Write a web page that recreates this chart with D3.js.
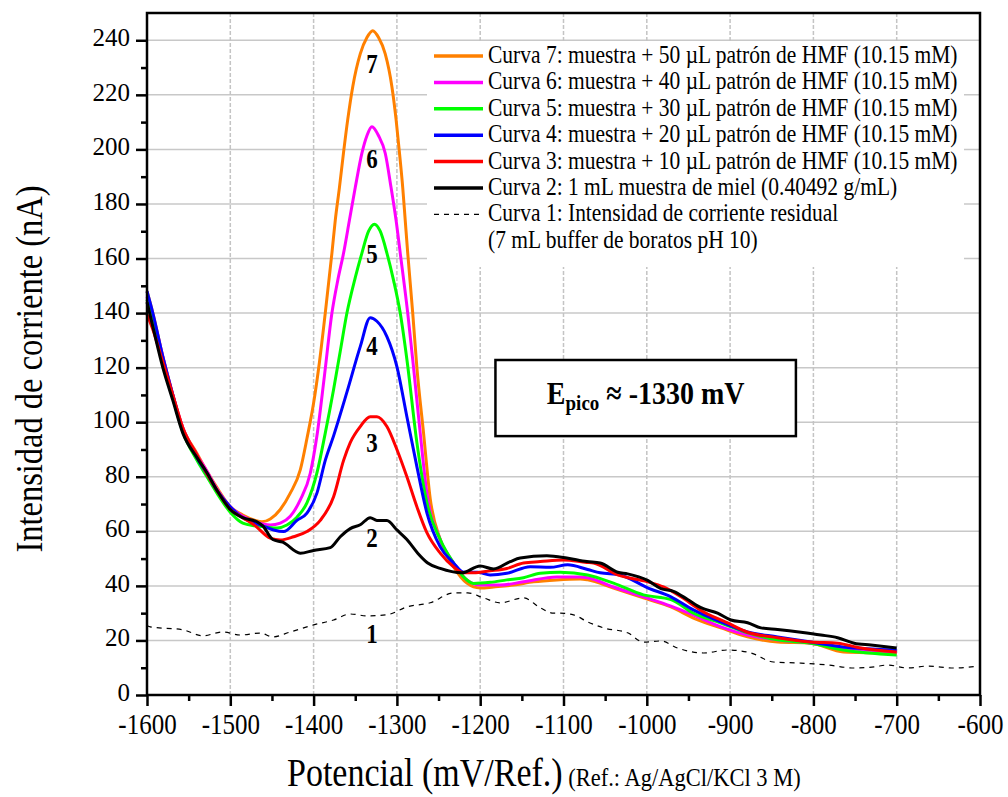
<!DOCTYPE html>
<html>
<head>
<meta charset="utf-8">
<script src="https://cdn.jsdelivr.net/npm/d3@7.9.0/dist/d3.min.js"></script>
<style>
  html, body { margin: 0; padding: 0; background: #fff; }
  svg { display: block; }
  svg text { font-family: "Liberation Serif", "Times New Roman", serif; }
</style>
</head>
<body>
<svg id="chart" width="1008" height="797"></svg>
<script>
// ticks
const xTicks = [-1600, -1500, -1400, -1300, -1200, -1100, -1000, -900, -800, -700, -600];
const yTicks = [0, 20, 40, 60, 80, 100, 120, 140, 160, 180, 200, 220, 240];

// curve 1: residual current (dashed)
const curva1 = [
  [-1600, 25.5], [-1596, 25], [-1557, 23.9], [-1533, 21.7], [-1509, 23.1], [-1488, 22],
  [-1464, 22.7], [-1449, 21.3], [-1428, 23.1], [-1400, 25.7], [-1376, 27.5], [-1356, 29.7],
  [-1336, 29], [-1312, 29.4], [-1288, 32.3], [-1260, 33.8], [-1232, 37.4], [-1215, 37.4],
  [-1196, 35.6], [-1176, 33.8], [-1148, 35.6], [-1128, 32], [-1112, 30], [-1104, 30],
  [-1088, 29.4], [-1071, 26.8], [-1052, 24.6], [-1023, 22.8], [-1004, 19.4], [-983, 19.8],
  [-963, 17.2], [-932, 15.4], [-903, 16.5], [-875, 15.4], [-848, 12.1], [-815, 11.7],
  [-783, 11], [-751, 9.9], [-727, 10.3], [-711, 11], [-687, 9.9], [-663, 10.6],
  [-631, 9.9], [-602, 10.6]
];

// curve 2: 1 mL honey sample
const curva2 = [
  [-1600, 144], [-1593, 135], [-1581, 120], [-1569, 108], [-1557, 96], [-1540, 87],
  [-1528, 81.5], [-1516, 75], [-1500, 68], [-1485, 65], [-1468, 63.5], [-1461, 62],
  [-1449, 57], [-1437, 56], [-1416, 52], [-1400, 53], [-1380, 54], [-1368, 58],
  [-1356, 61], [-1344, 62.4], [-1332, 65], [-1324, 64], [-1312, 64], [-1300, 60.5],
  [-1288, 57], [-1275, 52], [-1263, 48.4], [-1248, 46.4], [-1222, 44.8], [-1200, 47.3],
  [-1184, 46.2], [-1164, 48.9], [-1152, 50.2], [-1120, 51], [-1096, 50.2], [-1072, 48.9],
  [-1056, 48.4], [-1035, 45], [-1023, 44.4], [-999, 42], [-983, 39], [-968, 38],
  [-951, 35], [-935, 32], [-915, 30], [-899, 27.5], [-879, 26.5], [-863, 24.6],
  [-843, 24], [-815, 23], [-791, 22], [-771, 21], [-751, 19], [-731, 18.3], [-700, 17.2]
];

// curve 3: + 10 uL HMF
const curva3 = [
  [-1600, 139.5], [-1593, 134], [-1581, 122], [-1569, 110], [-1557, 98], [-1540, 88],
  [-1528, 81], [-1516, 75], [-1500, 68], [-1485, 65], [-1470, 62], [-1452, 57.5],
  [-1440, 56.8], [-1424, 58], [-1408, 59.9], [-1392, 64], [-1376, 72.7], [-1364, 86],
  [-1356, 92.5], [-1344, 98.4], [-1332, 102], [-1324, 102], [-1312, 98.4], [-1300, 90],
  [-1288, 80], [-1276, 69], [-1264, 59.5], [-1248, 52], [-1232, 47], [-1220, 44.8],
  [-1208, 44.8], [-1188, 45.5], [-1168, 46.4], [-1148, 48.4], [-1128, 48.9], [-1100, 49.5],
  [-1072, 48.6], [-1064, 48.4], [-1035, 44], [-999, 41.5], [-980, 39.6], [-959, 36],
  [-935, 31], [-903, 26.4], [-879, 23], [-843, 21], [-803, 19.4], [-771, 19],
  [-743, 17.2], [-700, 15.8]
];

// curve 4: + 20 uL HMF
const curva4 = [
  [-1600, 148], [-1593, 140], [-1581, 124], [-1569, 110], [-1557, 97], [-1540, 87],
  [-1528, 81], [-1516, 75], [-1500, 69], [-1485, 65], [-1470, 63], [-1461, 62],
  [-1448, 60.5], [-1436, 59.9], [-1420, 64], [-1408, 66.7], [-1396, 74], [-1386, 86],
  [-1376, 95], [-1360, 111], [-1344, 127.7], [-1332, 138.3], [-1324, 137], [-1312, 131.4],
  [-1300, 120.4], [-1288, 102], [-1276, 83.7], [-1264, 66.8], [-1248, 54.3], [-1232, 48.4],
  [-1220, 45], [-1203, 45], [-1188, 44], [-1168, 44.6], [-1140, 47], [-1116, 46.8],
  [-1095, 47.7], [-1071, 46], [-1056, 44.8], [-1032, 44], [-999, 39.3], [-971, 36],
  [-944, 31.2], [-911, 26.8], [-879, 23.1], [-843, 21.3], [-803, 19.4], [-764, 17.6],
  [-700, 16.5]
];

// curve 5: + 30 uL HMF
const curva5 = [
  [-1600, 145], [-1593, 138], [-1581, 123], [-1569, 109], [-1557, 96.5], [-1540, 86],
  [-1528, 80], [-1516, 74], [-1500, 67], [-1485, 63], [-1470, 62], [-1456, 61.5],
  [-1444, 61.2], [-1432, 62.3], [-1420, 65.2], [-1408, 70.4], [-1396, 81.4], [-1386, 96],
  [-1376, 112], [-1368, 126], [-1360, 140], [-1350, 153], [-1342, 162], [-1334, 170],
  [-1327, 172.6], [-1320, 170], [-1312, 162], [-1304, 152], [-1296, 140], [-1288, 123],
  [-1276, 92.5], [-1264, 70.5], [-1248, 57], [-1232, 48.4], [-1220, 43.3], [-1208, 40.9],
  [-1188, 41.3], [-1168, 42.2], [-1148, 43], [-1128, 44.6], [-1104, 45], [-1071, 44],
  [-1040, 41], [-1004, 36.7], [-971, 35], [-944, 30], [-911, 26.4], [-879, 22.8],
  [-843, 20.2], [-803, 19], [-764, 16.5], [-700, 14.7]
];

// curve 6: + 40 uL HMF
const curva6 = [
  [-1600, 146], [-1593, 139], [-1581, 124], [-1569, 110], [-1557, 98], [-1540, 88],
  [-1528, 82], [-1516, 75.5], [-1500, 69], [-1485, 65.5], [-1470, 63.5], [-1452, 62.3],
  [-1440, 63], [-1428, 65.5], [-1416, 71.5], [-1404, 81.3], [-1396, 95], [-1387, 117],
  [-1378, 140], [-1371, 152], [-1364, 162], [-1357, 174], [-1350, 186], [-1342, 198.6],
  [-1336, 205], [-1330, 208.3], [-1322, 205], [-1314, 198.6], [-1307, 186], [-1301, 174],
  [-1296, 162], [-1287, 140], [-1280, 120], [-1272, 96], [-1264, 74], [-1248, 57],
  [-1232, 48.4], [-1216, 42.2], [-1200, 40.3], [-1176, 40.3], [-1148, 41.5], [-1108, 43.3],
  [-1080, 43.3], [-1071, 43], [-1040, 39.6], [-1004, 36], [-971, 32.6], [-944, 29.3],
  [-911, 25], [-879, 22], [-843, 20.2], [-803, 19], [-764, 17.2], [-700, 15.8]
];

// curve 7: + 50 uL HMF
const curva7 = [
  [-1600, 148], [-1593, 140], [-1581, 124], [-1569, 110], [-1557, 98], [-1540, 88.5],
  [-1528, 82], [-1516, 76], [-1500, 69], [-1485, 66], [-1470, 64], [-1462, 63.5],
  [-1452, 64.5], [-1440, 68], [-1428, 74], [-1416, 82.5], [-1408, 94], [-1400, 107],
  [-1393, 122], [-1386, 140], [-1378, 162], [-1374, 174], [-1369, 186], [-1364, 199],
  [-1359, 211], [-1353, 223], [-1344, 235], [-1336, 241], [-1329, 243.5], [-1322, 241],
  [-1314, 235], [-1306, 223], [-1301, 211], [-1297, 199], [-1293, 186], [-1290, 174],
  [-1287, 162], [-1281, 140], [-1276, 120], [-1268, 96], [-1260, 72], [-1248, 57],
  [-1232, 47], [-1216, 41], [-1200, 39.2], [-1184, 39.6], [-1160, 40.3], [-1136, 41.5],
  [-1108, 42.2], [-1080, 42.5], [-1071, 42.2], [-1040, 39.2], [-1004, 35.6], [-971, 32.3],
  [-944, 28.2], [-911, 24.6], [-879, 21.3], [-843, 19.4], [-803, 19], [-764, 15.8],
  [-700, 15.4]
];

const legendLabels = [
  'Curva 7: muestra + 50 \u00b5L patrón de HMF (10.15 mM)',
  'Curva 6: muestra + 40 \u00b5L patrón de HMF (10.15 mM)',
  'Curva 5: muestra + 30 \u00b5L patrón de HMF (10.15 mM)',
  'Curva 4: muestra + 20 \u00b5L patrón de HMF (10.15 mM)',
  'Curva 3: muestra + 10 \u00b5L patrón de HMF (10.15 mM)',
  'Curva 2: 1 mL muestra de miel (0.40492 g/mL)',
  'Curva 1: Intensidad de corriente residual',
  '(7 mL buffer de boratos pH 10)'
];

// curve number labels near the peak
const curveLabels = [
  ['7', -1330, 228], ['6', -1330, 193.2], ['5', -1330, 158.4], ['4', -1330, 124.6],
  ['3', -1330, 89.2], ['2', -1330, 54.3], ['1', -1330, 19.1]
];

const series = [
  { data: curva7, color: '#ff8000' },
  { data: curva6, color: '#ff00ff' },
  { data: curva5, color: '#00ff00' },
  { data: curva4, color: '#0000ff' },
  { data: curva3, color: '#ff0000' },
  { data: curva2, color: '#000000' }
];

const S = 1.15; // text in the original looks a bit tall
const FONT = '"Liberation Serif", "Times New Roman", serif';

const svg = d3.select('#chart');
const mLeft = 147, mRight = 980, mTop = 13, mBottom = 695;

const x = d3.scaleLinear().domain([-1600, -600]).range([mLeft, mRight]);
const y = d3.scaleLinear().domain([0, 250]).range([mBottom, mTop]);

// grid
svg.append('g')
  .selectAll('line')
  .data(yTicks.filter(d => d > 0))
  .join('line')
  .attr('x1', mLeft).attr('x2', mRight)
  .attr('y1', d => y(d)).attr('y2', d => y(d))
  .attr('stroke', '#c8c8c8').attr('stroke-width', 1.5);

svg.append('g')
  .selectAll('line')
  .data(xTicks.slice(1, -1))
  .join('line')
  .attr('x1', d => x(d)).attr('x2', d => x(d))
  .attr('y1', mTop).attr('y2', mBottom)
  .attr('stroke', '#c4c4c4').attr('stroke-width', 1.5)
  .attr('stroke-dasharray', '4,2');

// legend background covers the grid
svg.append('rect')
  .attr('x', 427).attr('y', 43).attr('width', 537).attr('height', 224)
  .attr('fill', '#fff');

// curves
const line = d3.line()
  .x(d => x(d[0]))
  .y(d => y(d[1]))
  .curve(d3.curveMonotoneX);

svg.append('path')
  .datum(curva1)
  .attr('d', line)
  .attr('fill', 'none')
  .attr('stroke', '#000')
  .attr('stroke-width', 1.2)
  .attr('stroke-dasharray', '5,5');

svg.append('g')
  .selectAll('path')
  .data(series)
  .join('path')
  .attr('d', d => line(d.data))
  .attr('fill', 'none')
  .attr('stroke', d => d.color)
  .attr('stroke-width', 3)
  .attr('stroke-linejoin', 'round');

// curve numbers
svg.append('g')
  .selectAll('text')
  .data(curveLabels)
  .join('text')
  .attr('transform', d => `translate(${x(d[1])},${y(d[2])}) scale(1,${S})`)
  .attr('text-anchor', 'middle')
  .attr('font-size', 23)
  .attr('font-weight', 'bold')
  .text(d => d[0]);

// axes
const fmt = d => String(d);
const yAxis = svg.append('g')
  .attr('transform', `translate(${mLeft},0)`)
  .call(d3.axisLeft(y).tickValues(yTicks).tickFormat(fmt).tickSize(11).tickSizeOuter(0).tickPadding(6));
svg.append('g')
  .attr('transform', `translate(${mLeft},0)`)
  .call(d3.axisLeft(y).tickValues(d3.range(10, 250, 20)).tickSize(6).tickSizeOuter(0).tickFormat(''));

const xAxis = svg.append('g')
  .attr('transform', `translate(0,${mBottom})`)
  .call(d3.axisBottom(x).tickValues(xTicks).tickFormat(fmt).tickSize(11).tickSizeOuter(0));
svg.append('g')
  .attr('transform', `translate(0,${mBottom})`)
  .call(d3.axisBottom(x).tickValues(d3.range(-1550, -600, 100)).tickSize(6).tickSizeOuter(0).tickFormat(''));

svg.selectAll('.domain').remove();
svg.selectAll('.tick line').attr('stroke', '#000').attr('stroke-width', 2.5);

yAxis.attr('font-family', FONT);
yAxis.selectAll('text')
  .attr('font-size', 25)
  .attr('dy', '0.22em')
  .attr('fill', '#000');

xAxis.attr('font-family', FONT);
xAxis.selectAll('text')
  .attr('font-size', 25)
  .attr('fill', '#000')
  .attr('y', 0).attr('dy', 0)
  .attr('transform', `translate(0,39) scale(1,${S})`);

// frame
svg.append('rect')
  .attr('x', mLeft).attr('y', mTop)
  .attr('width', mRight - mLeft).attr('height', mBottom - mTop)
  .attr('fill', 'none')
  .attr('stroke', '#000')
  .attr('stroke-width', 2.5);

// legend
const legend = svg.append('g');
const rowY = i => 63 + i * 26.4;
legend.selectAll('line.sample')
  .data(series)
  .join('line')
  .attr('class', 'sample')
  .attr('x1', 434).attr('x2', 483)
  .attr('y1', (d, i) => rowY(i) - 7).attr('y2', (d, i) => rowY(i) - 7)
  .attr('stroke', d => d.color)
  .attr('stroke-width', 3.5);
legend.append('line')
  .attr('x1', 434).attr('x2', 480)
  .attr('y1', rowY(6) - 7).attr('y2', rowY(6) - 7)
  .attr('stroke', '#000').attr('stroke-width', 1.2)
  .attr('stroke-dasharray', '5,5');
legend.selectAll('text')
  .data(legendLabels)
  .join('text')
  .attr('transform', (d, i) => `translate(488,${rowY(i)}) scale(1,${S})`)
  .attr('font-size', 21.5)
  .text(d => d);

// peak potential box
const bx0 = x(-1181.7), bx1 = x(-821), by0 = y(122.8), by1 = y(94.9);
svg.append('rect')
  .attr('x', bx0).attr('y', by0)
  .attr('width', bx1 - bx0).attr('height', by1 - by0)
  .attr('fill', '#fff')
  .attr('stroke', '#000')
  .attr('stroke-width', 2.5);
const ann = svg.append('text')
  .attr('transform', `translate(${(bx0 + bx1) / 2},404) scale(1,${S})`)
  .attr('text-anchor', 'middle')
  .attr('font-weight', 'bold')
  .attr('font-size', 28);
ann.append('tspan').text('E');
ann.append('tspan').attr('font-size', 19).attr('dy', 5).text('pico');
ann.append('tspan').attr('dy', -5).text(' \u2248 -1330 mV');

// axis titles
svg.append('text')
  .attr('transform', `translate(42,369) rotate(-90) scale(1,${S})`)
  .attr('text-anchor', 'middle')
  .attr('font-size', 32.5)
  .text('Intensidad de corriente (nA)');

const xt = svg.append('text')
  .attr('transform', `translate(287,786) scale(1,${S})`)
  .attr('font-size', 34);
xt.append('tspan').text('Potencial (mV/Ref.)');
xt.append('tspan').attr('font-size', 22.5).text(' (Ref.: Ag/AgCl/KCl 3 M)');
</script>
</body>
</html>
